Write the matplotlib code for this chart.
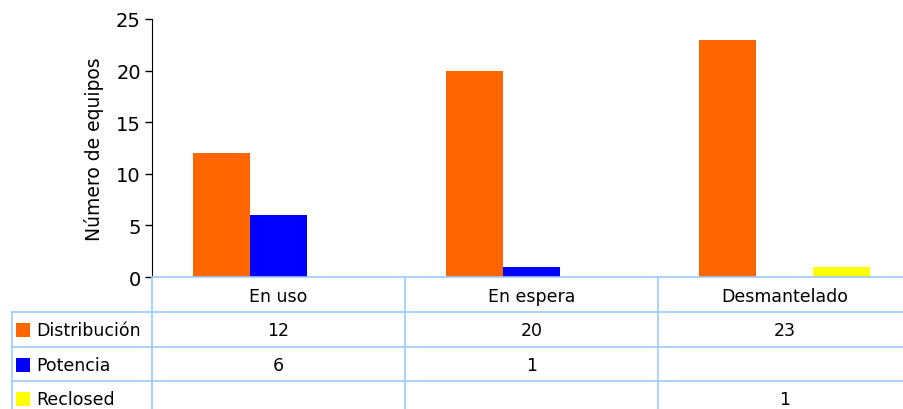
import matplotlib
matplotlib.use('Agg')
import numpy as np
from matplotlib import pyplot as plt
from matplotlib.lines import Line2D
from matplotlib.patches import Rectangle
from matplotlib.transforms import blended_transform_factory

categories = ['En uso', 'En espera', 'Desmantelado']
series_names = ['Distribución', 'Potencia', 'Reclosed']
distribucion = [12, 20, 23]
potencia = [6, 1, None]
reclosed = [None, None, 1]
series_colors = ['#FF6600', '#0000FF', '#FFFF00']
grid_color = '#99CCFF'

W, H = 904, 410
fig = plt.figure(figsize=(W / 100, H / 100), dpi=100)
ax = fig.add_axes([152 / W, 1 - 278 / H, (911 - 152) / W, 258 / H])

x = np.arange(len(categories))
width = 0.225
all_series = [distribucion, potencia, reclosed]
for i, (vals, col) in enumerate(zip(all_series, series_colors)):
    v = [np.nan if a is None else a for a in vals]
    ax.bar(x + (i - 1) * width, v, width, color=col, linewidth=0)

ax.set_xlim(-0.5, len(categories) - 0.5)
ax.set_ylim(0, 25)
ax.yaxis.set_major_locator(plt.MultipleLocator(5))
ax.set_xticks([])
ax.tick_params(axis='y', labelsize=14, length=5, width=1, pad=3)
ax.set_ylabel('Número de equipos', fontsize=13.5, labelpad=9)
for s in ['top', 'right']:
    ax.spines[s].set_visible(False)
ax.spines['bottom'].set_color(grid_color)
ax.spines['bottom'].set_linewidth(1.2)
ax.spines['left'].set_color('black')

# data table under the axis
tr = blended_transform_factory(ax.transData, fig.transFigure)
tf = fig.transFigure


def fy(p):
    return 1 - p / H


row_lines = [313, 348, 382]
for yp in row_lines:
    fig.add_artist(Line2D([12 / W, 1], [fy(yp), fy(yp)], color=grid_color, lw=1.2, transform=tf))
fig.add_artist(Line2D([12 / W, 12 / W], [fy(313), 0], color=grid_color, lw=1.2, transform=tf))
for b in np.arange(len(categories) + 1) - 0.5:
    fig.add_artist(Line2D([b, b], [fy(278), 0], color=grid_color, lw=1.2, transform=tr))

for i, c in enumerate(categories):
    fig.text(x[i], fy(297), c, transform=tr, ha='center', va='center', fontsize=12.5)

row_centers = [331, 366, 400]
for r, (name, vals, col) in enumerate(zip(series_names, all_series, series_colors)):
    yc = row_centers[r]
    fig.add_artist(Rectangle((16 / W, fy(yc + 7)), 14 / W, 14 / H, transform=tf,
                             facecolor=col, edgecolor='none'))
    fig.text(36 / W, fy(yc), name, transform=tf, ha='left', va='center', fontsize=12.5)
    for i, v in enumerate(vals):
        if v is not None:
            fig.text(x[i], fy(yc), str(v), transform=tr, ha='center', va='center', fontsize=12.5)

fig.savefig('out.png', dpi=100)
